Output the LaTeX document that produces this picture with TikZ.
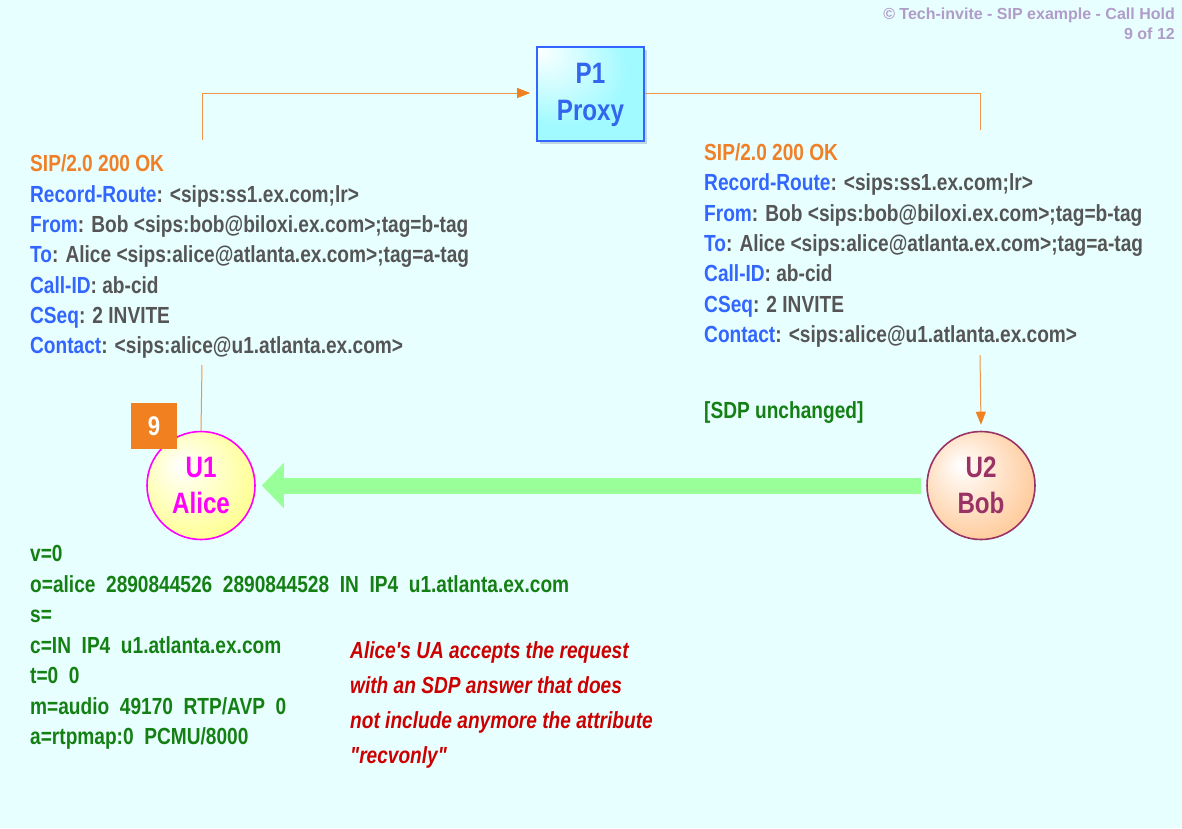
\documentclass[tikz,border=0pt]{standalone}
\usepackage{fontspec}
\setmainfont{Liberation Sans}
\newfontfamily\nar{Liberation Sans}[FakeStretch=0.82]
\usetikzlibrary{arrows.meta}
\definecolor{bg}{RGB}{232,255,255}
\definecolor{hdr}{RGB}{240,128,40}
\definecolor{lbl}{RGB}{51,102,255}
\definecolor{val}{RGB}{85,85,85}
\definecolor{sdp}{RGB}{20,128,20}
\definecolor{note}{RGB}{204,0,0}
\definecolor{cpr}{RGB}{176,156,200}
\definecolor{lnk}{RGB}{240,150,70}
\definecolor{arrtip}{RGB}{240,128,32}
\definecolor{proxyb}{RGB}{51,102,255}
\definecolor{proxyt}{RGB}{51,102,238}
\definecolor{proxyf}{RGB}{160,250,255}
\definecolor{proxys}{RGB}{190,215,225}
\definecolor{alicec}{RGB}{255,0,255}
\definecolor{alicef}{RGB}{255,255,140}
\definecolor{bobc}{RGB}{153,51,102}
\definecolor{bobf}{RGB}{255,200,150}
\definecolor{flow}{RGB}{153,255,153}
\definecolor{stepc}{RGB}{240,128,32}
\pgfdeclareradialshading{aliceshade}{\pgfpoint{-10bp}{10bp}}{color(0bp)=(white); color(32bp)=(alicef); color(50bp)=(alicef)}
\pgfdeclareradialshading{bobshade}{\pgfpoint{-10bp}{10bp}}{color(0bp)=(white); color(32bp)=(bobf); color(50bp)=(bobf)}
\pgfdeclareradialshading{proxyshade}{\pgfpoint{-25bp}{25bp}}{color(0bp)=(white); color(30bp)=(proxyf); color(60bp)=(proxyf)}
\tikzset{
  msg/.style={anchor=base west, inner sep=0pt, font=\nar\bfseries\fontsize{23.3}{28}\selectfont, text=val},
  sdpline/.style={msg, text=sdp},
  noteline/.style={msg, text=note, font=\nar\bfseries\itshape\fontsize{23.3}{28}\selectfont},
  link/.style={draw=lnk, line width=1pt},
  linkarr/.style={link, -{Triangle[length=13pt,width=10pt,color=arrtip]}},
  ent/.style={circle, minimum size=108pt, inner sep=0pt, align=center, line width=1.6pt, font=\nar\bfseries\fontsize{29.5}{36}\selectfont},
}
\begin{document}
\begin{tikzpicture}[x=1pt,y=-1pt]
\useasboundingbox (0,0) rectangle (1182,828);
\fill[bg] (0,0) rectangle (1182,828);
% header
\node[anchor=base east, inner sep=0pt, text=cpr, font=\bfseries\fontsize{16}{20}\selectfont] (cp1) at (1175,19) {© Tech-invite - SIP example - Call Hold};
\node[anchor=base east, inner sep=0pt, text=cpr, font=\bfseries\fontsize{16}{20}\selectfont] (cp2) at (1175,39) {9 of 12};
% proxy
\fill[proxys] (540,50) rectangle (647,144);
\node[draw=proxyb, line width=1.6pt, shading=proxyshade, minimum width=107pt, minimum height=94pt, inner sep=0pt, align=center, text=proxyt, font=\nar\bfseries\fontsize{29.5}{37}\selectfont, text depth=4pt] (proxy) at (590.5,94) {P1\\Proxy};
% entities
\node[ent, draw=alicec, shading=aliceshade, text=alicec] (alice) at (201,485.5) {U1\\Alice};
\node[ent, draw=bobc, shading=bobshade, text=bobc] (bob) at (981,485.5) {U2\\Bob};
\node[fill=stepc, minimum size=46pt, inner sep=0pt, text=white, font=\nar\bfseries\fontsize{27}{30}\selectfont] (stp) at (154,426) {9};
% connectors
\coordinate (la) at (202,140);
\coordinate (ra) at (980,130);
\coordinate (lb) at (202,365);
\coordinate (rb) at (980,355);
\draw[linkarr] (la) |- ([xshift=-6pt,yshift=1pt]proxy.west);
\draw[link] ([yshift=1pt]proxy.east) -| (ra);
\draw[link] (lb) -- (alice.north);
\draw[linkarr] (rb) -- ([yshift=6pt]bob.north);
\draw[flow, line width=16pt, -{Triangle[length=22pt,width=44pt]}] ([xshift=-5pt]bob.west) -- ([xshift=6pt]alice.east);
% left message
\node[msg, text=hdr] (m1) at (30,171.5) {SIP/2.0 200 OK};
\node[msg] (m2) at (30,202) {\textcolor{lbl}{Record-Route}: <sips:ss1.ex.com;lr>};
\node[msg] (m3) at (30,232.5) {\textcolor{lbl}{From}: Bob <sips:bob@biloxi.ex.com>;tag=b-tag};
\node[msg] (m4) at (30,262.5) {\textcolor{lbl}{To}: Alice <sips:alice@atlanta.ex.com>;tag=a-tag};
\node[msg] (m5) at (30,293) {\textcolor{lbl}{Call-ID}: ab-cid};
\node[msg] (m6) at (30,323.3) {\textcolor{lbl}{CSeq}: 2 INVITE};
\node[msg] (m7) at (30,353.6) {\textcolor{lbl}{Contact}: <sips:alice@u1.atlanta.ex.com>};
% right message
\node[msg, text=hdr] (n1) at (704,160.5) {SIP/2.0 200 OK};
\node[msg] (n2) at (704,190.8) {\textcolor{lbl}{Record-Route}: <sips:ss1.ex.com;lr>};
\node[msg] (n3) at (704,221.1) {\textcolor{lbl}{From}: Bob <sips:bob@biloxi.ex.com>;tag=b-tag};
\node[msg] (n4) at (704,251.4) {\textcolor{lbl}{To}: Alice <sips:alice@atlanta.ex.com>;tag=a-tag};
\node[msg] (n5) at (704,281.7) {\textcolor{lbl}{Call-ID}: ab-cid};
\node[msg] (n6) at (704,312) {\textcolor{lbl}{CSeq}: 2 INVITE};
\node[msg] (n7) at (704,342.3) {\textcolor{lbl}{Contact}: <sips:alice@u1.atlanta.ex.com>};
\node[sdpline] (su) at (704,418.5) {[SDP unchanged]};
% SDP
\node[sdpline] (s1) at (30,561.5) {v=0};
\node[sdpline] (s2) at (30,592) {o=alice\ \ 2890844526\ \ 2890844528\ \ IN\ \ IP4\ \ u1.atlanta.ex.com};
\node[sdpline] (s3) at (30,622.5) {s=};
\node[sdpline] (s4) at (30,653) {c=IN\ \ IP4\ \ u1.atlanta.ex.com};
\node[sdpline] (s5) at (30,683.5) {t=0\ \ 0};
\node[sdpline] (s6) at (30,714) {m=audio\ \ 49170\ \ RTP/AVP\ \ 0};
\node[sdpline] (s7) at (30,744.5) {a=rtpmap:0\ \ PCMU/8000};
% note
\node[noteline] (t1) at (350,658.5) {Alice's UA accepts the request};
\node[noteline] (t2) at (350,693.5) {with an SDP answer that does};
\node[noteline] (t3) at (350,728.5) {not include anymore the attribute};
\node[noteline] (t4) at (350,763.5) {"recvonly"};
\end{tikzpicture}
\end{document}
